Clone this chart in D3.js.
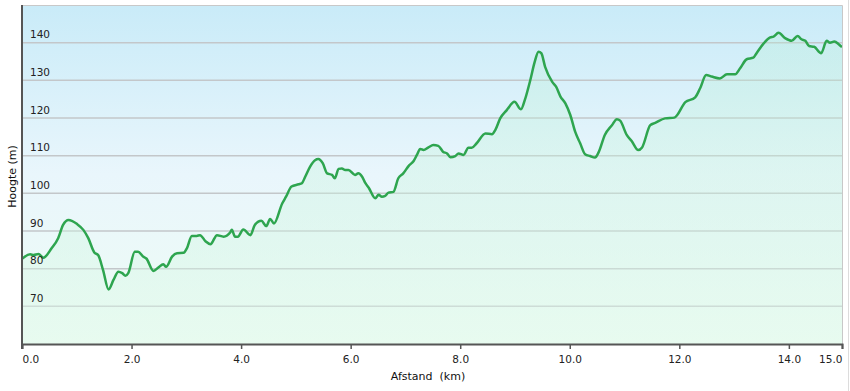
<!DOCTYPE html>
<html>
<head>
<meta charset="utf-8">
<script src="https://cdn.jsdelivr.net/npm/d3@7"></script>
<style>
  body { margin: 0; background: #fff; }
  svg { display: block; font-family: "DejaVu Sans", Verdana, sans-serif; }
</style>
</head>
<body>
<svg id="chart"></svg>
<script>
// distance (km) and height (m)
const distance = [0.0, 0.15, 0.21, 0.30, 0.39, 0.54, 0.66, 0.75, 0.85, 0.91, 1.00, 1.12, 1.21, 1.32, 1.39, 1.48, 1.58, 1.67, 1.76, 1.83, 1.89, 1.94,
  2.06, 2.12, 2.21, 2.27, 2.40, 2.49, 2.58, 2.63, 2.74, 2.83, 2.95, 3.01, 3.10, 3.19, 3.25, 3.35, 3.44, 3.56, 3.68, 3.80, 3.83, 3.89, 3.94,
  4.04, 4.17, 4.25, 4.37, 4.46, 4.53, 4.60, 4.75, 4.82, 4.92, 5.05, 5.11, 5.17, 5.26, 5.35, 5.41, 5.49, 5.57, 5.66, 5.71, 5.78, 5.84, 5.90, 5.96,
  6.08, 6.14, 6.21, 6.27, 6.33, 6.45, 6.51, 6.57, 6.63, 6.69, 6.78, 6.87, 6.96, 7.06, 7.15, 7.21, 7.27, 7.33, 7.42, 7.51, 7.60, 7.69, 7.76, 7.82, 7.91, 7.97,
  8.06, 8.15, 8.21, 8.30, 8.46, 8.58, 8.64, 8.73, 8.85, 8.99, 9.11, 9.18, 9.28, 9.36, 9.43, 9.48, 9.55, 9.68, 9.75, 9.83, 9.92,
  10.01, 10.10, 10.19, 10.28, 10.37, 10.46, 10.53, 10.64, 10.77, 10.86, 10.92, 11.04, 11.13, 11.25, 11.32, 11.47, 11.56, 11.74, 11.91,
  12.11, 12.29, 12.38, 12.49, 12.59, 12.74, 12.87, 13.02, 13.11, 13.23, 13.35, 13.41, 13.54, 13.66, 13.72, 13.81, 13.93,
  14.05, 14.16, 14.23, 14.30, 14.37, 14.46, 14.59, 14.69, 14.75, 14.83, 14.91, 14.97];
const height = [82.6, 83.8, 83.6, 83.9, 82.9, 85.4, 88.1, 91.6, 92.9, 92.7, 91.9, 90.3, 88.1, 84.3, 83.6, 79.6, 74.5, 77.0, 79.2, 78.8, 78.1, 78.8,
  84.5, 84.5, 83.2, 82.7, 79.4, 80.3, 81.2, 80.5, 83.2, 84.1, 84.2, 85.4, 88.7, 88.7, 88.9, 87.3, 86.5, 88.9, 88.5, 89.6, 90.3, 88.5, 88.5,
  90.4, 88.9, 91.6, 92.7, 91.3, 93.2, 92.0, 97.3, 99.1, 101.8, 102.4, 102.7, 104.4, 107.1, 108.8, 109.1, 108.0, 105.3, 104.9, 104.0, 106.5, 106.6, 106.2, 106.2,
  104.9, 105.3, 104.4, 102.7, 101.5, 98.7, 99.6, 99.1, 99.3, 100.2, 100.4, 104.0, 105.3, 107.3, 108.6, 110.2, 111.8, 111.5, 112.2, 112.8, 112.6, 111.0, 110.6, 109.6, 109.9, 110.6,
  110.2, 112.1, 112.1, 113.3, 115.9, 115.7, 116.8, 119.9, 122.1, 124.3, 122.3, 124.8, 130.1, 134.9, 137.6, 137.2, 133.6, 129.6, 128.3, 125.7, 123.9,
  120.8, 116.3, 113.3, 110.4, 109.9, 109.5, 111.0, 115.5, 118.1, 119.7, 119.3, 115.5, 113.9, 111.5, 112.2, 118.1, 118.7, 119.9, 120.1,
  124.2, 125.5, 127.9, 131.4, 131.0, 130.5, 131.6, 131.6, 133.2, 135.6, 136.0, 137.2, 139.8, 141.4, 141.6, 142.6, 141.2,
  140.5, 141.8, 140.9, 140.5, 139.1, 138.9, 137.2, 140.5, 140.0, 140.3, 139.6, 138.8];

const yTicks = [70, 80, 90, 100, 110, 120, 130, 140];
const xTickValues = [0, 2, 4, 6, 8, 10, 12, 14, 14.97];
const xTickLabels = ["0.0", "2.0", "4.0", "6.0", "8.0", "10.0", "12.0", "14.0", "15.0"];

const W = 850, H = 391;
const margin = {top: 5, right: 8, bottom: 47, left: 22};

const svg = d3.select('#chart').attr('width', W).attr('height', H);

const x = d3.scaleLinear().domain([0, 14.97]).range([margin.left, W - margin.right]);
const y = d3.scaleLinear().domain([60, 150]).range([H - margin.bottom, margin.top]);

const data = distance.map((d, i) => ({d, h: height[i]}));

const defs = svg.append('defs');
const bg = defs.append('linearGradient').attr('id', 'bg').attr('x1', 0).attr('y1', 0).attr('x2', 0).attr('y2', 1);
bg.append('stop').attr('offset', '0%').attr('stop-color', '#c9ebf8');
bg.append('stop').attr('offset', '50%').attr('stop-color', '#e9f6fc');
bg.append('stop').attr('offset', '100%').attr('stop-color', '#eefcf4');

const fillG = defs.append('linearGradient').attr('id', 'fillg').attr('x1', 0).attr('y1', 0).attr('x2', 0).attr('y2', 1);
fillG.append('stop').attr('offset', '0%').attr('stop-color', '#b5efd3').attr('stop-opacity', 0.28);
fillG.append('stop').attr('offset', '100%').attr('stop-color', '#e0faea').attr('stop-opacity', 0.45);

// plot background
svg.append('rect')
  .attr('x', x(0)).attr('y', y(150))
  .attr('width', x(14.97) - x(0)).attr('height', y(60) - y(150))
  .attr('fill', 'url(#bg)');

// grid
svg.append('g').selectAll('line').data(yTicks).join('line')
  .attr('x1', x(0)).attr('x2', x(14.97))
  .attr('y1', d => y(d)).attr('y2', d => y(d))
  .attr('stroke', '#c3c7ca').attr('stroke-width', 1.5);

// area + line
const area = d3.area().x(d => x(d.d)).y0(y(60)).y1(d => y(d.h)).curve(d3.curveMonotoneX);
const line = d3.line().x(d => x(d.d)).y(d => y(d.h)).curve(d3.curveMonotoneX);

svg.append('path').datum(data).attr('d', area)
  .attr('fill', 'url(#fillg)');
svg.append('path').datum(data).attr('d', line)
  .attr('fill', 'none').attr('stroke', '#2ea54f').attr('stroke-width', 2.5)
  .attr('stroke-linejoin', 'round');

// frame top/right
svg.append('path')
  .attr('d', `M${x(0)},${y(150) + 0.5}H${x(14.97) + 0.5}V${y(60)}`)
  .attr('fill', 'none').attr('stroke', '#c8c8c8').attr('stroke-width', 1);
svg.append('line').attr('x1', 848.5).attr('x2', 848.5).attr('y1', 0).attr('y2', H)
  .attr('stroke', '#dcdcdc');

// y labels inside the plot
svg.append('g').selectAll('text').data(yTicks).join('text')
  .attr('x', margin.left + 8).attr('y', d => y(d) - 4.5)
  .attr('font-size', 10.5).attr('fill', '#222')
  .text(d => d);

// x axis
const xAxis = d3.axisBottom(x).tickValues(xTickValues)
  .tickFormat((d, i) => xTickLabels[i]).tickSize(5).tickPadding(7);
const gx = svg.append('g').attr('transform', `translate(0,${y(60)})`).call(xAxis);
gx.select('.domain').attr('stroke', '#555').attr('stroke-width', 2);
gx.selectAll('.tick line').attr('stroke', '#555').attr('stroke-width', 1.5);
gx.selectAll('.tick text').attr('font-size', 10.5).attr('fill', '#222')
  .attr('font-family', '"DejaVu Sans", Verdana, sans-serif')
  .attr('text-anchor', (d, i) => i === 0 ? 'start' : (i === xTickValues.length - 1 ? 'end' : 'middle'));

// y axis line
svg.append('line').attr('x1', x(0)).attr('x2', x(0)).attr('y1', y(150)).attr('y2', y(60) + 5)
  .attr('stroke', '#555').attr('stroke-width', 2);

// titles
svg.append('text').attr('x', (x(0) + x(14.97)) / 2 - 4).attr('y', 380)
  .attr('text-anchor', 'middle').attr('font-size', 11).attr('fill', '#111')
  .attr('xml:space', 'preserve').style('white-space', 'pre')
  .text('Afstand  (km)');
svg.append('text')
  .attr('transform', `translate(16,${(y(60) + y(150)) / 2 + 2}) rotate(-90)`)
  .attr('text-anchor', 'middle').attr('font-size', 11).attr('fill', '#111')
  .text('Hoogte (m)');
</script>
</body>
</html>
